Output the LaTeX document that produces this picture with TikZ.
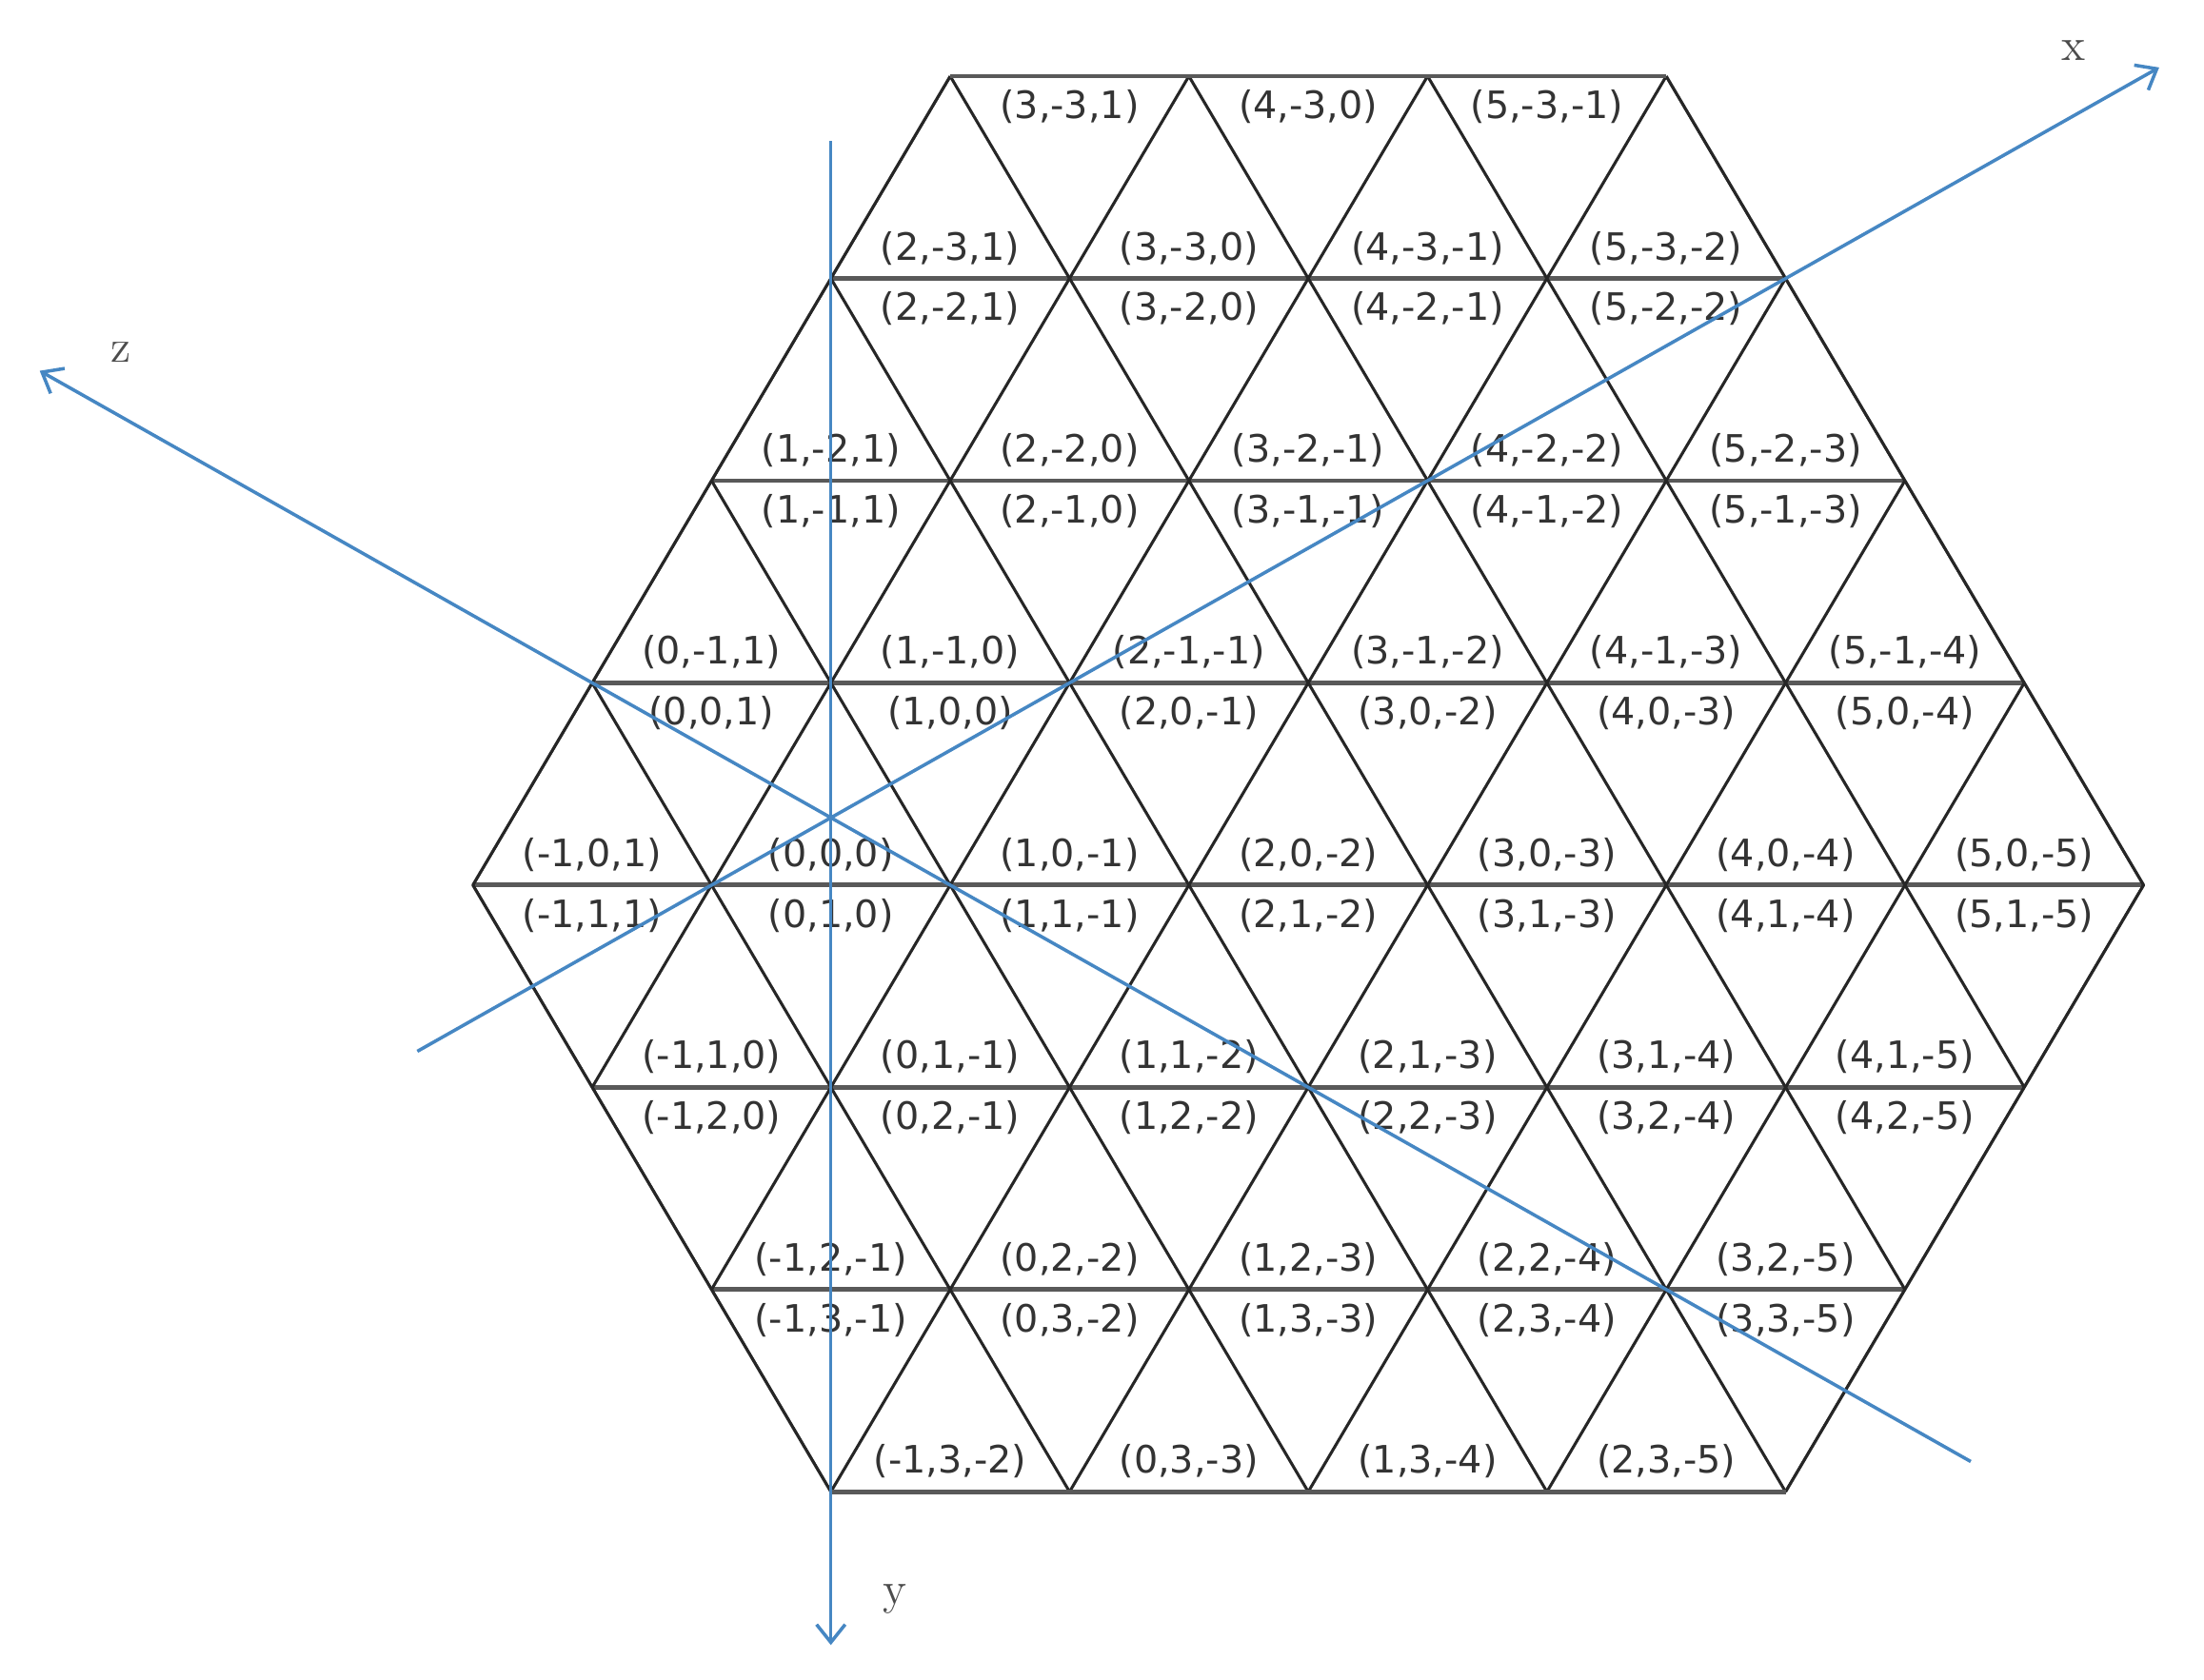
\documentclass[tikz,border=0pt]{standalone}
\usepackage{fontspec}
\usetikzlibrary{arrows.meta}
\newfontfamily\lblfont{DejaVu Sans}
\definecolor{axisblue}{RGB}{70,135,195}

\begin{document}
\begin{tikzpicture}[x=2cm,y=1.6949cm,line join=round]
  \tikzstyle{lbl}=[text=black!80,font=\lblfont\fontsize{9}{10}\selectfont,inner sep=0pt]
  \tikzstyle{slantline}=[draw=black!85,line width=0.7pt]
  \tikzstyle{rowline}=[draw=black!65,line width=1.1pt]
  \tikzstyle{axisline}=[draw=axisblue,line width=0.8pt,-{Straight Barb[length=1.5mm,width=2.4mm]}]
  \tikzstyle{axlbl}=[text=black!70,font=\fontsize{11}{13}\selectfont,inner sep=0pt]

  \useasboundingbox (-1.981,-0.9277) rectangle (7.253,7.3767);

  % corners of the hexagon
  \coordinate (h1) at (2,7);
  \coordinate (h2) at (5,7);
  \coordinate (h3) at (7,3);
  \coordinate (h4) at (5.5,0);
  \coordinate (h5) at (1.5,0);
  \coordinate (h6) at (0,3);

  \begin{scope}
    \clip (h1) -- (h2) -- (h3) -- (h4) -- (h5) -- (h6) -- cycle;
    \foreach \j in {0,...,7}
      \draw[rowline] (-1,\j) -- (8,\j);
    \foreach \c in {-1.5,-0.5,...,5.5}
      \draw[slantline] ({\c-0.5},-1) -- ({\c+4},8);
    \foreach \d in {1.5,2.5,...,8.5}
      \draw[slantline] ({\d+0.5},-1) -- ({\d-4},8);
  \end{scope}
  \draw[slantline] (h2) -- (h3) -- (h4);
  \draw[slantline] (h5) -- (h6) -- (h1);
  \draw[rowline] (h1) -- (h2);
  \draw[rowline] (h4) -- (h5);

  % labels, row by row
  \foreach \row/\da/\db/\ua/\ub in {-3/3/5/2/5,-2/2/5/1/5,-1/1/5/0/5,0/0/5/-1/5,1/-1/5/-1/4,2/-1/4/-1/3,3/-1/3/-1/2}
  {
    % downward triangles: under the top edge
    \foreach \col in {\da,...,\db}
    {
      \pgfmathtruncatemacro{\zc}{1-(\col)-(\row)}
      \node[lbl] (dn\col_\row) at ({\col+0.5*(\row)+1},{3.85-(\row)}) {(\col,\row,\zc)};
    }
    % upward triangles: on the bottom edge
    \foreach \col in {\ua,...,\ub}
    {
      \pgfmathtruncatemacro{\zc}{-(\col)-(\row)}
      \node[lbl] (up\col_\row) at ({\col+0.5*(\row)+1.5},{3.15-(\row)}) {(\col,\row,\zc)};
    }
  }

  % axes
  \coordinate (xs) at (-0.2325,2.178);
  \coordinate (xe) at (7.065,7.043);
  \coordinate (zs) at (6.2756,0.1496);
  \coordinate (ze) at (-1.8146,5.543);
  \coordinate (ys) at (1.5,6.678);
  \coordinate (ye) at (1.5,-0.758);

  \draw[axisline] (xs) -- (xe);
  \draw[axisline] (zs) -- (ze);
  \draw[axisline] (ys) -- (ye);

  \node[axlbl] (xlab) at (6.705,7.126) {x};
  \node[axlbl] (zlab) at (-1.475,5.635) {z};
  \node[axlbl] (ylab) at (1.770,-0.532) {y};

\end{tikzpicture}
\end{document}
